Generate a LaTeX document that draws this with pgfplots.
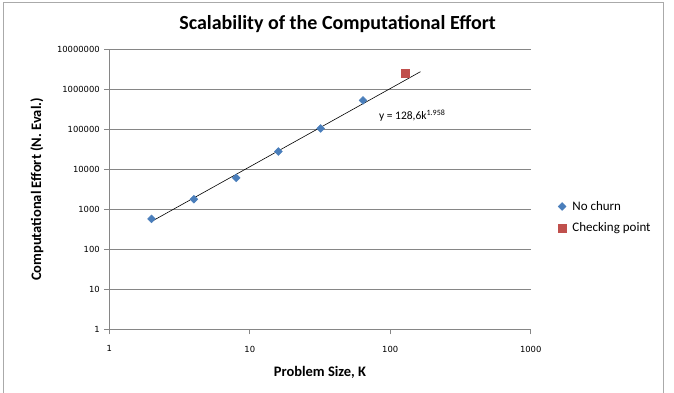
\documentclass[border=0pt]{standalone}
\usepackage{fontspec}
\setmainfont{Carlito}
\newfontfamily\tickfont{DejaVu Sans}
\usepackage{pgfplots}
\pgfplotsset{compat=1.18}
\definecolor{xlblue}{RGB}{74,126,187}
\definecolor{xlred}{RGB}{192,80,77}
\definecolor{xlgray}{RGB}{134,134,134}
\begin{document}
\begin{tikzpicture}
\useasboundingbox (0pt,0pt) rectangle (674pt,393pt);
\draw[color=xlgray!70, line width=0.8pt] (3pt,-5pt) -- (3pt,391pt) -- (663pt,391pt) -- (663pt,-5pt);
\begin{axis}[
  at={(109.3pt,63.7pt)}, anchor=south west,
  scale only axis, width=421.4pt, height=279.6pt,
  xmode=log, ymode=log,
  xmin=1, xmax=1000, ymin=1, ymax=10000000,
  log basis x=10, log basis y=10,
  axis x line*=bottom, axis y line*=left,
  axis line style={xlgray, line width=0.8pt, -},
  ymajorgrids, grid style={xlgray, line width=0.8pt},
  xtick={1,10,100,1000}, xticklabels={1,10,100,1000},
  ytick={1,10,100,1000,10000,100000,1000000,10000000},
  yticklabels={1,10,100,1000,10000,100000,1000000,10000000},
  minor tick num=0, xminorticks=false, yminorticks=false,
  tick align=outside, major tick length=5pt,
  tick style={xlgray, line width=0.8pt},
  ticklabel style={font=\tickfont\fontsize{8.4}{9}\selectfont, text=black},
  /pgf/number format/assume math mode=true,
  yticklabel style={xshift=-1pt},
  xticklabel style={yshift=-8pt},
  clip=false,
  title={\bfseries\fontsize{20}{24}\selectfont Scalability of the Computational Effort},
  title style={at={(rel axis cs:0.5415,1.072)}, anchor=center},
  xlabel={\bfseries\fontsize{14.5}{17}\selectfont Problem Size, K},
  xlabel style={at={(rel axis cs:0.5,-0.153)}, anchor=center, yshift=0pt},
  ylabel={\bfseries\fontsize{14.5}{17}\selectfont Computational Effort (N. Eval.)},
  ylabel style={at={(rel axis cs:-0.1716,0.5)}, anchor=center, rotate=0, xshift=0pt},
  legend style={at={(rel axis cs:1.063,0.466)}, anchor=north west, draw=none, fill=none,
    font=\fontsize{13}{15}\selectfont, row sep=7pt, inner sep=0pt, column sep=0pt},
  legend cell align=left,
  legend image code/.code={\draw[#1] plot coordinates {(0pt,0pt)}; \path (-4.5pt,0pt) (8pt,0pt);},
]
\addplot[black, line width=0.6pt, forget plot] coordinates {
 (2,501.8) (4,1950) (8,7577) (16,29440) (32,114400) (64,444500) (128,1727000) (164,2812000)};
\addplot[only marks, mark=square*, mark size=2.8pt, color=xlblue, mark options={fill=xlblue, draw=xlblue, rotate=45}] coordinates {
 (2,581) (4,1811) (8,6190) (16,28250) (32,106600) (64,536000)};
\addlegendentry{No churn}
\addplot[only marks, mark=square*, mark size=4.2pt, color=xlred, mark options={fill=xlred, draw=xlred}] coordinates {
 (128,2550000)};
\addlegendentry{Checking point}
\node[anchor=west, font=\fontsize{11.5}{13}\selectfont, inner sep=0pt] at (axis cs:83,225000) {y = 128,6k\textsuperscript{1.958}};
\end{axis}
\end{tikzpicture}
\end{document}
